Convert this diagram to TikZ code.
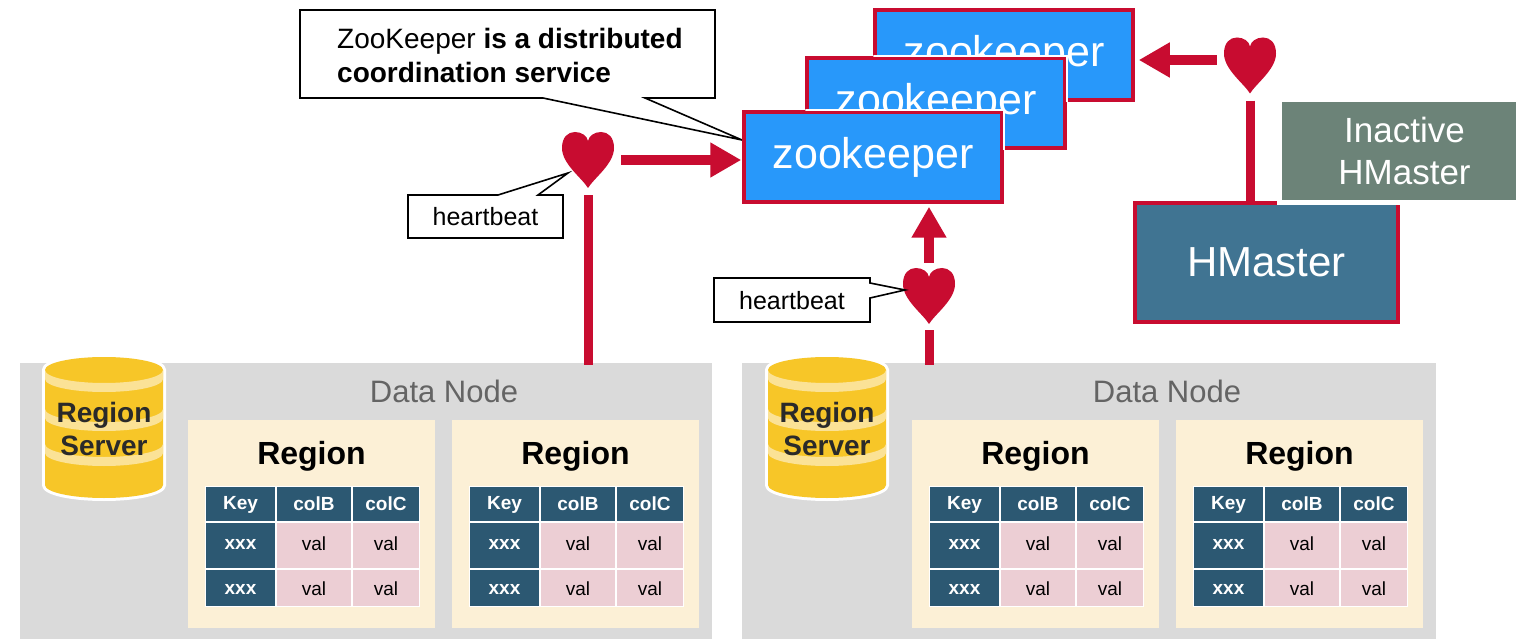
\documentclass[tikz,border=0pt]{standalone}
\usepackage{fontspec}
\setmainfont{Liberation Sans}
\usetikzlibrary{arrows.meta}
\definecolor{hred}{RGB}{200,12,48}
\definecolor{zkblue}{RGB}{40,152,250}
\definecolor{hmblue}{RGB}{64,116,146}
\definecolor{ihmgray}{RGB}{108,131,120}
\definecolor{dngray}{RGB}{218,218,218}
\definecolor{regcream}{RGB}{252,240,214}
\definecolor{tdark}{RGB}{44,88,114}
\definecolor{tpink}{RGB}{236,206,212}
\definecolor{cylyel}{RGB}{247,198,40}
\definecolor{cyllight}{RGB}{251,226,150}
\definecolor{dntext}{RGB}{100,100,100}
\definecolor{rstext}{RGB}{42,42,42}
\newcommand{\pxf}[1]{\fontsize{#1}{#1}\selectfont}
\tikzset{
  dnbox/.style={fill=dngray, inner sep=0pt},
  dnlabel/.style={text=dntext, font=\pxf{31}, inner sep=0pt},
  regbox/.style={fill=regcream, inner sep=0pt, minimum width=247pt, minimum height=208pt, anchor=north west},
  regtitle/.style={font=\bfseries\pxf{32}, inner sep=0pt},
  hcell/.style={text=white, font=\bfseries\pxf{19}, inner sep=0pt},
  vcell/.style={text=black, font=\pxf{19}, inner sep=0pt},
  rslabel/.style={text=rstext, font=\bfseries\fontsize{28}{33}\selectfont, align=center, inner sep=0pt},
  zkbox/.style={fill=zkblue, draw=hred, line width=3.5pt, minimum width=258pt, minimum height=90pt, inner sep=0pt, text=white, font=\pxf{43}},
  hmbox/.style={fill=hmblue, draw=hred, line width=3.5pt, minimum width=263pt, minimum height=119pt, inner sep=0pt, text=white, font=\pxf{42}},
  ihmbox/.style={fill=ihmgray, draw=white, line width=5pt, minimum width=250pt, minimum height=103pt, inner sep=0pt, anchor=north west, text=white, align=center, font=\fontsize{35}{42}\selectfont},
  hnode/.style={minimum width=52pt, minimum height=57pt, inner sep=0pt},
  conn/.style={draw=hred, line width=9pt},
  arr/.style={draw=hred, line width=10pt, -{Triangle[length=31pt,width=33pt]}},
  calloutline/.style={draw=black, fill=white, line width=1.6pt, line join=miter},
  notetext/.style={font=\fontsize{28}{34}\selectfont, align=left, inner sep=0pt, anchor=west},
  hbtext/.style={font=\pxf{25}, inner sep=0pt},
  heartshape/.pic={
    \fill[hred] (0,28) .. controls (-6,18) and (-26,4) .. (-26,-12)
      .. controls (-26,-23) and (-20,-28) .. (-13,-28)
      .. controls (-6,-28) and (-1,-24) .. (0,-19)
      .. controls (1,-24) and (6,-28) .. (13,-28)
      .. controls (20,-28) and (26,-23) .. (26,-12)
      .. controls (26,4) and (6,18) .. (0,28) -- cycle;
  },
  rscyl/.pic={
    \draw[white, line width=6pt, fill=white] (-59,370) -- (-59,485)
      .. controls (-59,492.2) and (-32.6,498) .. (0,498)
      .. controls (32.6,498) and (59,492.2) .. (59,485) -- (59,370)
      .. controls (59,362.8) and (32.6,357) .. (0,357)
      .. controls (-32.6,357) and (-59,362.8) .. (-59,370) -- cycle;
    \fill[cylyel] (-59,370) -- (-59,485)
      .. controls (-59,492.2) and (-32.6,498) .. (0,498)
      .. controls (32.6,498) and (59,492.2) .. (59,485) -- (59,370)
      .. controls (59,362.8) and (32.6,357) .. (0,357)
      .. controls (-32.6,357) and (-59,362.8) .. (-59,370) -- cycle;
    \foreach \c in {370,409,444} {
      \fill[cyllight] (-59,\c) .. controls (-59,{\c+7.2}) and (-32.6,{\c+13}) .. (0,{\c+13})
        .. controls (32.6,{\c+13}) and (59,{\c+7.2}) .. (59,\c) -- (59,{\c+9})
        .. controls (59,{\c+16.2}) and (32.6,{\c+22}) .. (0,{\c+22})
        .. controls (-32.6,{\c+22}) and (-59,{\c+16.2}) .. (-59,{\c+9}) -- cycle;
    }
  }
}
\begin{document}
\begin{tikzpicture}[x=1pt,y=-1pt]
\useasboundingbox (0,0) rectangle (1516,639);
\fill[white] (0,0) rectangle (1516,639);

% data nodes
\node[dnbox, minimum width=692pt, minimum height=276pt] (dn1) at (366,501) {};
\node[dnbox, minimum width=694pt, minimum height=276pt] (dn2) at (1089,501) {};
\node[dnlabel] (dn1lab) at (444,391) {Data Node};
\node[dnlabel] (dn2lab) at (1167,391) {Data Node};

% region servers
\pic at (104,0) {rscyl};
\pic at (827,0) {rscyl};
\node[rslabel] (rs1) at (104,429) {Region\\Server};
\node[rslabel] (rs2) at (827,429) {Region\\Server};

% regions with tables
\foreach \x/\n in {188/a,452/b,912/c,1176/d} {
  \node[regbox] (reg\n) at (\x,420) {};
  \node[regtitle] (regt\n) at ({\x+123.5},456) {Region};
  \fill[white] ({\x+17},486) rectangle ({\x+232},607);
  \fill[tdark] ({\x+18},487) rectangle ({\x+87},521);
  \fill[tdark] ({\x+89},487) rectangle ({\x+163},521);
  \fill[tdark] ({\x+165},487) rectangle ({\x+231},521);
  \fill[tdark] ({\x+18},523) rectangle ({\x+87},568);
  \fill[tpink] ({\x+89},523) rectangle ({\x+163},568);
  \fill[tpink] ({\x+165},523) rectangle ({\x+231},568);
  \fill[tdark] ({\x+18},570) rectangle ({\x+87},606);
  \fill[tpink] ({\x+89},570) rectangle ({\x+163},606);
  \fill[tpink] ({\x+165},570) rectangle ({\x+231},606);
  \node[hcell] (key\n) at ({\x+52.5},505) {Key};
  \node[hcell] (colb\n) at ({\x+126},504) {colB};
  \node[hcell] (colc\n) at ({\x+198},504) {colC};
  \node[hcell] (xa\n) at ({\x+52.5},544) {xxx};
  \node[vcell] (vab\n) at ({\x+126},544) {val};
  \node[vcell] (vac\n) at ({\x+198},544) {val};
  \node[hcell] (xb\n) at ({\x+52.5},589) {xxx};
  \node[vcell] (vbb\n) at ({\x+126},589) {val};
  \node[vcell] (vbc\n) at ({\x+198},589) {val};
}

% big callout
\coordinate (calltip) at (742,140);
\draw[calloutline] (300,10) -- (715,10) -- (715,98) -- (645,98) -- (calltip) -- (543,98) -- (300,98) -- cycle;
\node[notetext] (note) at (337,55) {ZooKeeper \textbf{is a distributed}\\\textbf{coordination service}};

% zookeeper stack
\node[zkbox] (zk3) at (1004,55) {zookeeper};
\node[zkbox] (zk2) at (936,103) {zookeeper};
\begin{scope}
  \clip (zk3.north west) rectangle (zk3.south east);
  \draw[white, line width=2.5pt] (zk2.north west) rectangle (zk2.south east);
\end{scope}
\node[zkbox] (zk1) at (873,157) {zookeeper};
\begin{scope}
  \clip (zk2.north west) rectangle (zk2.south east);
  \draw[white, line width=2.5pt] (zk1.north west) rectangle (zk1.south east);
\end{scope}

% HMasters
\node[hmbox] (hm) at (1266.5,262.5) {HMaster};
\node[ihmbox] (ihm) at (1277,97) {Inactive\\HMaster};

% hearts
\node[hnode] (h1) at (588,160) {};
\node[hnode] (h2) at (929,296) {};
\node[hnode] (h3) at (1250,65.5) {};
\pic at (h1) {heartshape};
\pic at (h2) {heartshape};
\pic at (h3) {heartshape};

% connectors
\draw[arr, shorten <=7pt, shorten >=1pt] (h1.east) -- (zk1.west |- h1.east);
\draw[conn, shorten <=6.5pt] (h1.south) -- ([yshift=-2pt]h1.south |- dn1.north);
\draw[arr, shorten <=4.5pt, shorten >=3pt] (h2.north) -- (h2.north |- zk1.south);
\draw[conn, shorten <=5.5pt] (h2.south) -- ([yshift=-2pt]h2.south |- dn2.north);
\coordinate (h3w) at ([yshift=5.5pt]h3.west);
\draw[arr, shorten <=7pt, shorten >=4pt] (h3w) -- (zk3.east |- h3w);
\draw[conn, shorten <=6.5pt] (h3.south) -- (h3.south |- hm.north);

% heartbeat callouts
\coordinate (hbtip1) at (568,173);
\draw[calloutline] (408,195) -- (498,195) -- (hbtip1) -- (538,195) -- (563,195) -- (563,238) -- (408,238) -- cycle;
\node[hbtext] (hb1) at (485.5,217) {heartbeat};
\coordinate (hbtip2) at (905,290);
\draw[calloutline] (714,278) -- (870,278) -- (870,283) -- (hbtip2) -- (870,298) -- (870,322) -- (714,322) -- cycle;
\node[hbtext] (hb2) at (792,301) {heartbeat};
\end{tikzpicture}
\end{document}
